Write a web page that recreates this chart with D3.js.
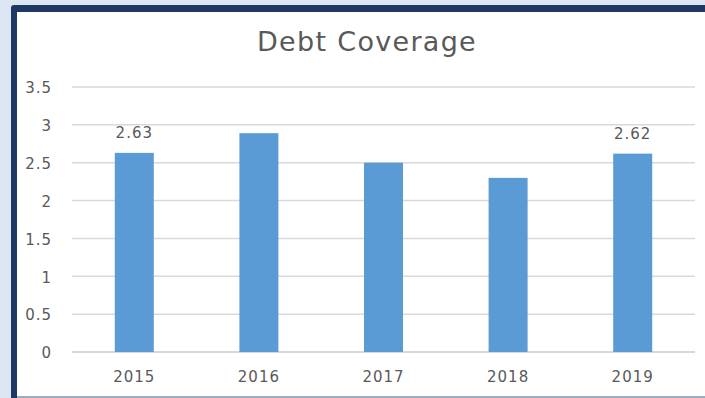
<!DOCTYPE html>
<html>
<head>
<meta charset="utf-8">
<script src="https://cdn.jsdelivr.net/npm/d3@7"></script>
<style>
  body { margin: 0; background: #dde7f4; }
  svg { display: block; }
</style>
</head>
<body>
<div id="chart"></div>
<script>
// data
var years = ["2015", "2016", "2017", "2018", "2019"];
var coverage = [2.63, 2.89, 2.50, 2.30, 2.62];
var labelled = ["2015", "2019"];
var yTicks = [0, 0.5, 1, 1.5, 2, 2.5, 3, 3.5];

var W = 705, H = 398;
var font = "'DejaVu Sans', 'Open Sans', sans-serif";
var textColor = "#595959";

var margin = {top: 87, right: 10, bottom: 46, left: 72},
    width = W - margin.left - margin.right,
    height = H - margin.top - margin.bottom;

var svg = d3.select("#chart")
  .append("svg")
    .attr("width", W)
    .attr("height", H);

// page background + card with navy border
svg.append("rect")
  .attr("width", W).attr("height", H)
  .attr("fill", "#dde7f4");
svg.append("rect")
  .attr("x", 11).attr("y", 5)
  .attr("width", 710).attr("height", 410)
  .attr("rx", 3)
  .attr("fill", "#203864");
svg.append("rect")
  .attr("x", 17).attr("y", 12)
  .attr("width", 700).attr("height", 400)
  .attr("fill", "#ffffff");
svg.append("line")
  .attr("x1", 17).attr("x2", W)
  .attr("y1", 397).attr("y2", 397)
  .attr("stroke", "#8090a8")
  .attr("stroke-width", 1.5);

// title
svg.append("text")
  .attr("x", 367)
  .attr("y", 51)
  .attr("text-anchor", "middle")
  .style("font-family", font)
  .style("font-size", "27px")
  .style("letter-spacing", "1.3px")
  .style("fill", textColor)
  .text("Debt Coverage");

var g = svg.append("g")
  .attr("transform", "translate(" + margin.left + "," + margin.top + ")");

// scales
var x = d3.scaleBand()
  .domain(years)
  .range([0, width]);

var y = d3.scaleLinear()
  .domain([0, 3.5])
  .range([height, 0]);

// gridlines
g.append("g")
  .selectAll("line")
  .data(yTicks)
  .enter()
  .append("line")
    .attr("x1", 0)
    .attr("x2", width)
    .attr("y1", function(d) { return y(d); })
    .attr("y2", function(d) { return y(d); })
    .attr("stroke", "#d9d9d9")
    .attr("stroke-width", function(d) { return d === 0 ? 2 : 1.5; });

// y axis labels
var yAxis = g.append("g")
  .attr("transform", "translate(-17,1)")
  .call(d3.axisLeft(y).tickValues(yTicks).tickSize(0).tickFormat(d3.format("")));
yAxis.select(".domain").remove();
yAxis.selectAll("text")
  .style("font-family", font)
  .style("font-size", "15px")
  .style("letter-spacing", "1px")
  .style("fill", textColor);

// x axis labels
var xAxis = g.append("g")
  .attr("transform", "translate(0," + height + ")")
  .call(d3.axisBottom(x).tickSize(0).tickPadding(19));
xAxis.select(".domain").remove();
xAxis.selectAll("text")
  .style("font-family", font)
  .style("font-size", "15px")
  .style("letter-spacing", "1px")
  .style("fill", textColor);

// bars
var barW = x.bandwidth() * 0.313;
g.append("g")
  .selectAll("rect")
  .data(years)
  .enter()
  .append("rect")
    .attr("x", function(d) { return x(d) + x.bandwidth() / 2 - barW / 2; })
    .attr("y", function(d, i) { return y(coverage[i]); })
    .attr("width", barW)
    .attr("height", function(d, i) { return height - y(coverage[i]); })
    .attr("fill", "#5b9bd5");

// data labels on first and last bars
g.append("g")
  .selectAll("text")
  .data(labelled)
  .enter()
  .append("text")
    .attr("x", function(d) { return x(d) + x.bandwidth() / 2; })
    .attr("y", function(d) { return y(coverage[years.indexOf(d)]) - 15; })
    .attr("text-anchor", "middle")
    .style("font-family", font)
    .style("font-size", "15px")
    .style("letter-spacing", "1px")
    .style("fill", textColor)
    .text(function(d) { return d3.format(".2f")(coverage[years.indexOf(d)]); });
</script>
</body>
</html>
